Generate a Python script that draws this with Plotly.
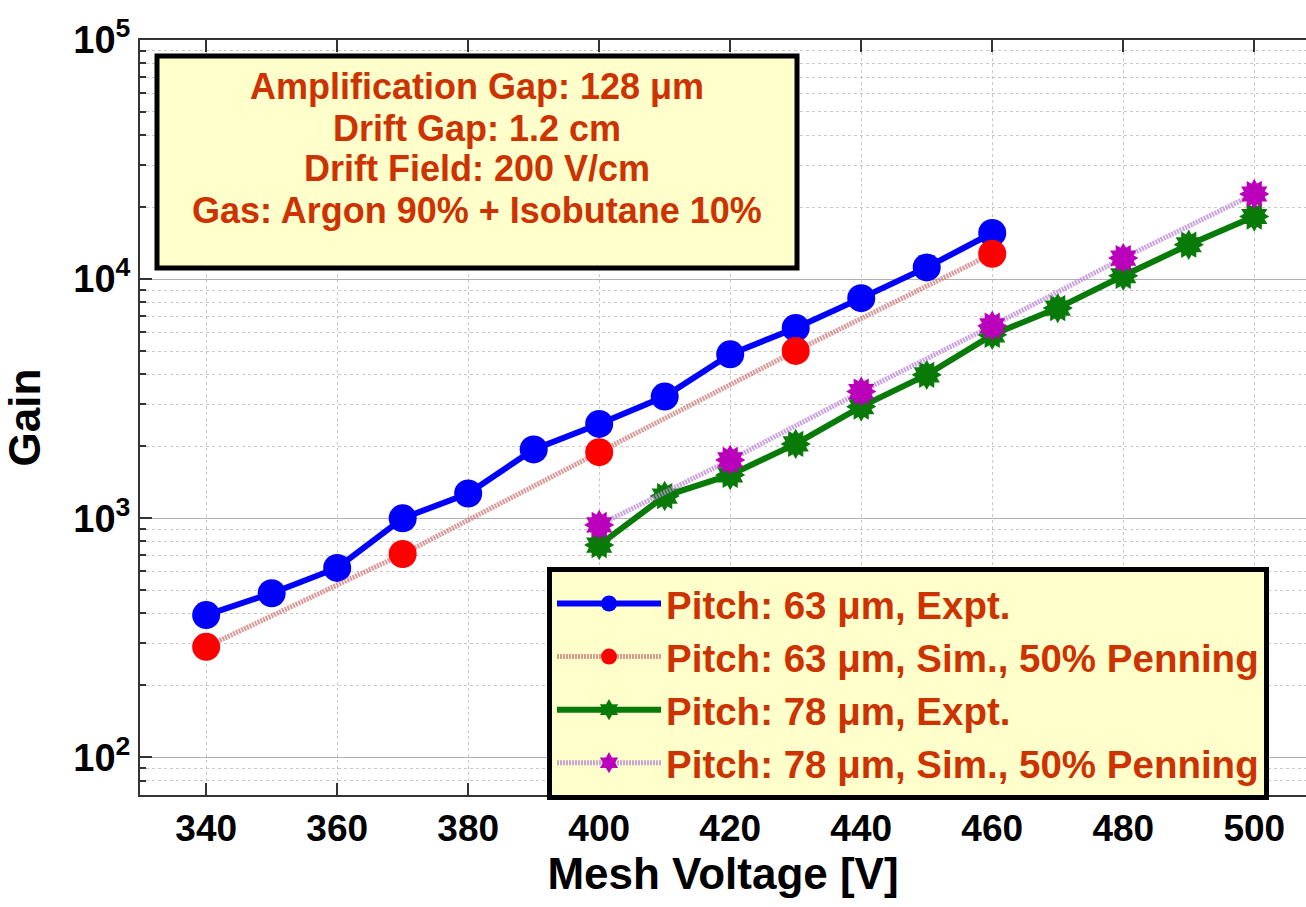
import plotly.graph_objects as go

# ---- data ----
v63_expt = [340, 350, 360, 370, 380, 390, 400, 410, 420, 430, 440, 450, 460]
g63_expt = [394, 486, 620, 1000, 1270, 1940, 2480, 3230, 4850, 6250, 8330, 11200, 15600]

v63_sim = [340, 370, 400, 430, 460]
g63_sim = [290, 709, 1890, 5010, 12770]

v78_expt = [400, 410, 420, 430, 440, 450, 460, 470, 480, 490, 500]
g78_expt = [773, 1239, 1518, 2047, 2931, 3980, 5850, 7570, 10330, 13930, 18280]

v78_sim = [400, 420, 440, 460, 480, 500]
g78_sim = [938, 1754, 3388, 6385, 12250, 22700]

series_names = [
    "Pitch: 63 \u03bcm, Expt.",
    "Pitch: 63 \u03bcm, Sim., 50% Penning",
    "Pitch: 78 \u03bcm, Expt.",
    "Pitch: 78 \u03bcm, Sim., 50% Penning",
]

x_ticks = [340, 360, 380, 400, 420, 440, 460, 480, 500]
y_ticks = [100, 1000, 10000, 100000]
y_ticktext = ["10<sup>2</sup>", "10<sup>3</sup>", "10<sup>4</sup>", "10<sup>5</sup>"]

info_lines = [
    "Amplification Gap: 128 \u03bcm",
    "Drift Gap: 1.2 cm",
    "Drift Field: 200 V/cm",
    "Gas: Argon 90% + Isobutane 10%",
]

# ---- style ----
SANS = "Liberation Sans, Arial, sans-serif"
TXT_RED = "#cc3300"
BOX_BG = "#ffffcc"
GREEN = "#087a08"
MAGENTA = "#bb00bb"

W, H = 1306, 907
ML, MR, MT, MB = 140, 0, 40, 112
plot_w = W - ML - MR
plot_h = H - MT - MB


def px_x(px):
    return (px - ML) / plot_w


def px_y(py):
    return 1 - (py - MT) / plot_h


def seal_overlay(fig, xs, ys, color):
    """Extra marker layers that turn a hexagram into a rounded 12-point seal."""
    fig.add_trace(go.Scatter(
        x=xs, y=ys, showlegend=False, mode="markers", hoverinfo="skip",
        marker=dict(symbol="hexagram", size=23, color=color, angle=30),
    ))
    fig.add_trace(go.Scatter(
        x=xs, y=ys, showlegend=False, mode="markers", hoverinfo="skip",
        marker=dict(symbol="circle", size=19, color=color),
    ))


fig = go.Figure()

fig.add_trace(go.Scatter(
    x=v63_expt, y=g63_expt, name=series_names[0], mode="lines+markers",
    line=dict(color="#0000ff", width=6),
    marker=dict(symbol="circle", size=28, color="#0000ff"),
))
fig.add_trace(go.Scatter(
    x=v63_sim, y=g63_sim, name=series_names[1], mode="lines+markers",
    line=dict(color="rgba(205,120,120,0.75)", width=5, dash="2px,1px"),
    marker=dict(symbol="circle", size=28, color="#ff0000"),
))
fig.add_trace(go.Scatter(
    x=v78_expt, y=g78_expt, name=series_names[2], mode="lines+markers",
    line=dict(color=GREEN, width=6),
    marker=dict(symbol="hexagram", size=23, color=GREEN),
))
seal_overlay(fig, v78_expt, g78_expt, GREEN)
fig.add_trace(go.Scatter(
    x=v78_sim, y=g78_sim, name=series_names[3], mode="lines+markers",
    line=dict(color="rgba(190,140,215,0.8)", width=5, dash="2px,1px"),
    marker=dict(symbol="hexagram", size=23, color=MAGENTA),
))
seal_overlay(fig, v78_sim, g78_sim, MAGENTA)

# info box (rectangle + one annotation per line)
box_l, box_r, box_t, box_b = 157, 797, 56, 268
fig.add_shape(
    type="rect", xref="paper", yref="paper", layer="above",
    x0=px_x(box_l), x1=px_x(box_r), y0=px_y(box_b), y1=px_y(box_t),
    fillcolor=BOX_BG, line=dict(color="black", width=5),
)
line_y = [87, 128, 168, 210]
for txt, yy in zip(info_lines, line_y):
    fig.add_annotation(
        xref="paper", yref="paper",
        x=px_x((box_l + box_r) / 2), y=px_y(yy),
        xanchor="center", yanchor="middle",
        text=txt, showarrow=False,
        font=dict(family=SANS, size=36, color=TXT_RED, weight="bold"),
    )

fig.update_layout(
    width=W, height=H,
    margin=dict(l=ML, r=MR, t=MT, b=MB),
    paper_bgcolor="white", plot_bgcolor="white",
    font=dict(family=SANS, size=36, color="black", weight="bold"),
    legend=dict(
        x=px_x(547), y=px_y(567),
        xanchor="left", yanchor="top",
        bgcolor=BOX_BG, bordercolor="black", borderwidth=5,
        font=dict(family=SANS, size=38.5, color=TXT_RED, weight="bold"),
        itemwidth=104, tracegroupgap=0,
    ),
    showlegend=True,
)

fig.update_xaxes(
    range=[329.9, 507.9],
    tickvals=x_ticks,
    ticks="inside", ticklen=12, tickwidth=2, tickcolor="#333",
    showline=True, linecolor="#333", linewidth=2, mirror="ticks",
    showgrid=True, gridcolor="#c8c8c8", griddash="dot", gridwidth=1,
    zeroline=False,
    tickfont=dict(family=SANS, size=37, color="black", weight="bold"),
    title=dict(text="Mesh Voltage [V]", standoff=8,
               font=dict(family=SANS, size=44, color="black", weight="bold")),
)

fig.update_yaxes(
    type="log", range=[1.843, 5.0],
    tickvals=y_ticks, ticktext=y_ticktext,
    ticks="inside", ticklen=12, tickwidth=2, tickcolor="#333",
    showline=True, linecolor="#333", linewidth=2, mirror=False,
    showgrid=True, gridcolor="#b0b0b0", gridwidth=1,
    minor=dict(ticks="inside", ticklen=6, tickcolor="#333", dtick="D1",
               showgrid=True, gridcolor="#c8c8c8", griddash="dot"),
    zeroline=False,
    tickfont=dict(family=SANS, size=38, color="black", weight="bold"),
    title=dict(text="Gain", standoff=22,
               font=dict(family=SANS, size=44, color="black", weight="bold")),
)

fig.write_html("out.html")
